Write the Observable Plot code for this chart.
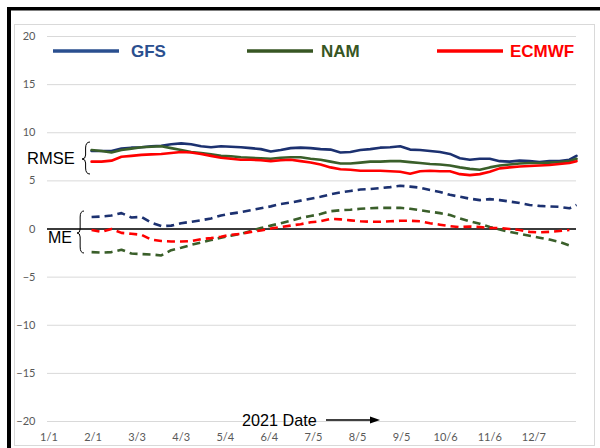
<!DOCTYPE html>
<html>
<head>
<meta charset="utf-8">
<script src="https://cdn.jsdelivr.net/npm/d3@7"></script>
<script src="https://cdn.jsdelivr.net/npm/@observablehq/plot@0.6"></script>
<style>
  html, body { margin: 0; padding: 0; background: #fff; }
  #wrap { position: relative; width: 600px; height: 448px; overflow: hidden; }
  #wrap svg { position: absolute; left: 0; top: 0; }
  #overlay { pointer-events: none; }
</style>
</head>
<body>
<div id="wrap"></div>
<script>
// ---- data ----
const models = ["GFS", "NAM", "ECMWF"];
const lineColors = ["#1c3170", "#3a5f2a", "#ff0000"];
const legendColors = ["#2a4f8f", "#375623", "#ff0000"];

// day index since 1/1 (category position on the date axis)
const days = [30, 37, 44, 51, 58, 65, 72, 79, 86, 93,
  100, 107, 114, 121, 128, 135, 142, 149, 156, 163,
  170, 177, 184, 191, 198, 205, 212, 219, 226, 233,
  240, 247, 254, 261, 268, 275, 282, 289, 296, 303,
  310, 317, 324, 331, 338, 345, 352, 359, 366, 371];

const gfsRmse = [8.1, 8.1, 8.1, 8.35, 8.45, 8.5, 8.6, 8.65, 8.8, 8.9,
  8.8, 8.6, 8.5, 8.6, 8.55, 8.5, 8.4, 8.3, 8.05, 8.2,
  8.4, 8.45, 8.4, 8.3, 8.25, 7.95, 8.0, 8.2, 8.3, 8.45,
  8.5, 8.6, 8.25, 8.2, 8.1, 8.0, 7.8, 7.35, 7.2, 7.3,
  7.3, 7.05, 7.0, 7.1, 7.05, 6.95, 7.05, 7.05, 7.2, 7.6];
const namRmse = [8.2, 8.1, 7.95, 8.2, 8.35, 8.5, 8.55, 8.6, 8.4, 8.2,
  8.0, 7.9, 7.75, 7.6, 7.55, 7.45, 7.4, 7.35, 7.3, 7.4,
  7.45, 7.45, 7.3, 7.2, 7.0, 6.8, 6.8, 6.9, 7.0, 7.0,
  7.05, 7.05, 6.95, 6.85, 6.75, 6.7, 6.6, 6.4, 6.25, 6.15,
  6.4, 6.6, 6.7, 6.8, 6.85, 6.85, 6.9, 6.95, 7.05, 7.3];
const ecmwfRmse = [7.0, 7.0, 7.1, 7.5, 7.6, 7.7, 7.75, 7.8, 7.9, 8.0,
  7.95, 7.8, 7.6, 7.4, 7.3, 7.2, 7.2, 7.15, 7.05, 7.15,
  7.2, 7.05, 6.9, 6.7, 6.4, 6.2, 6.15, 6.05, 6.05, 6.05,
  6.0, 5.95, 5.75, 6.0, 6.05, 6.0, 6.0, 5.7, 5.6, 5.7,
  5.95, 6.3, 6.4, 6.5, 6.55, 6.6, 6.65, 6.75, 6.85, 7.05];

const gfsMe = [1.25, 1.3, 1.4, 1.65, 1.2, 1.25, 0.65, 0.3, 0.35, 0.6,
  0.75, 0.9, 1.1, 1.4, 1.6, 1.75, 1.95, 2.15, 2.35, 2.6,
  2.75, 2.95, 3.15, 3.35, 3.6, 3.8, 3.95, 4.1, 4.15, 4.25,
  4.35, 4.5, 4.4, 4.3, 4.05, 3.85, 3.55, 3.35, 3.15, 3.0,
  3.1, 3.0, 2.85, 2.7, 2.5, 2.4, 2.35, 2.3, 2.15, 2.5];
const namMe = [-2.4, -2.45, -2.4, -2.15, -2.55, -2.6, -2.65, -2.75, -2.2, -1.95,
  -1.65, -1.4, -1.15, -0.9, -0.7, -0.5, -0.2, 0.1, 0.35, 0.6,
  0.85, 1.15, 1.35, 1.55, 1.85, 1.95, 2.0, 2.1, 2.15, 2.2,
  2.2, 2.2, 2.1, 1.95, 1.8, 1.65, 1.45, 1.1, 0.8, 0.55,
  0.2, -0.05, -0.3, -0.5, -0.7, -0.9, -1.1, -1.35, -1.7, null];
const ecmwfMe = [-0.1, -0.3, 0.0, -0.4, -0.5, -0.6, -1.1, -1.25, -1.3, -1.3,
  -1.25, -1.05, -0.95, -0.8, -0.6, -0.5, -0.3, -0.15, 0.05, 0.2,
  0.35, 0.5, 0.7, 0.8, 1.05, 1.0, 0.9, 0.8, 0.75, 0.75,
  0.8, 0.85, 0.85, 0.8, 0.6, 0.45, 0.3, 0.2, 0.25, 0.2,
  0.1, 0.1, 0.0, -0.1, -0.3, -0.35, -0.3, -0.2, -0.1, null];

const tickDays = [0, 31, 62, 93, 124, 155, 186, 217, 248, 279, 310, 341];
const tickLabels = ["1/1", "2/1", "3/3", "4/3", "5/4", "6/4", "7/5", "8/5", "9/5", "10/6", "11/6", "12/7"];
const yTicks = [-20, -15, -10, -5, 0, 5, 10, 15, 20];

// ---- table built from the arrays ----
const rmse = [gfsRmse, namRmse, ecmwfRmse];
const me = [gfsMe, namMe, ecmwfMe];
const rows = models.flatMap((m, mi) => days.map((d, i) => ({model: m, day: d, rmse: rmse[mi][i], me: me[mi][i]})));

const chart = Plot.plot({
  width: 600,
  height: 448,
  marginLeft: 47,
  marginRight: 24,
  marginTop: 36,
  marginBottom: 27,
  x: {domain: [-1, 371], axis: null, label: null},
  y: {domain: [-20, 20], axis: null, label: null},
  color: {domain: models, range: lineColors},
  style: {fontFamily: "Lato, 'Open Sans', sans-serif", fontSize: "11px", color: "#595959", background: "transparent"},
  marks: [
    Plot.gridY(yTicks, {stroke: "#d9d9d9", strokeOpacity: 1, strokeWidth: 1}),
    Plot.axisY(yTicks, {tickSize: 0, tickPadding: 12, fill: "#595959", fontSize: 11, label: null}),
    Plot.axisX(tickDays, {tickSize: 0, tickPadding: 12, fill: "#595959", fontSize: 11, label: null,
      tickFormat: d => tickLabels[tickDays.indexOf(d)]}),
    Plot.ruleY([0], {stroke: "#000", strokeWidth: 1.6}),
    Plot.line(rows, {x: "day", y: "rmse", z: "model", stroke: "model", strokeWidth: 2.6}),
    Plot.line(rows, {x: "day", y: "me", z: "model", stroke: "model", strokeWidth: 2.6,
      strokeDasharray: "8,5", strokeLinecap: "butt"})
  ]
});
const wrap = document.getElementById("wrap");
wrap.appendChild(chart);

// ---- frame, legend and annotations ----
const NS = "http://www.w3.org/2000/svg";
const ov = document.createElementNS(NS, "svg");
ov.setAttribute("id", "overlay");
ov.setAttribute("width", 600);
ov.setAttribute("height", 448);
ov.setAttribute("viewBox", "0 0 600 448");
function el(tag, attrs, text) {
  const e = document.createElementNS(NS, tag);
  for (const k in attrs) e.setAttribute(k, attrs[k]);
  if (text != null) e.textContent = text;
  ov.appendChild(e);
  return e;
}
// outer black frame (left and top) and inner light box
el("rect", {x: 7, y: 7, width: 4, height: 441, fill: "#000"});
el("rect", {x: 7, y: 7, width: 593, height: 3.5, fill: "#000"});
el("rect", {x: 14.5, y: 24.5, width: 580, height: 421, fill: "none", stroke: "#d9d9d9", "stroke-width": 1});

// legend
const legendLineX = [53, 247, 437];
const legendTextX = [131, 321, 510];
models.forEach((m, i) => {
  el("line", {x1: legendLineX[i], x2: legendLineX[i] + 66, y1: 51, y2: 51, stroke: legendColors[i], "stroke-width": 3.3});
  el("text", {x: legendTextX[i], y: 57, fill: legendColors[i], "font-family": "'Liberation Sans', Arial, sans-serif",
    "font-size": 17, "font-weight": "bold"}, m);
});

// braces
function brace(tip, back, y1, y2, mid) {
  const s = tip + (back - tip) * 0.45;
  const d = `M${back},${y1} Q${s},${y1} ${s},${y1 + 6} L${s},${mid - 4} Q${s},${mid} ${tip},${mid} ` +
            `Q${s},${mid} ${s},${mid + 4} L${s},${y2 - 6} Q${s},${y2} ${back},${y2}`;
  el("path", {d, fill: "none", stroke: "#000", "stroke-width": 1});
}
brace(82, 90, 142, 174, 159);
brace(77, 84, 211, 253, 233);
el("text", {x: 27, y: 164, fill: "#000", "font-family": "'Liberation Sans', Arial, sans-serif", "font-size": 16.5}, "RMSE");
el("text", {x: 48, y: 242.5, fill: "#000", "font-family": "'Liberation Sans', Arial, sans-serif", "font-size": 16}, "ME");

// x-axis title with arrow
el("text", {x: 242, y: 426, fill: "#000", "font-family": "'Liberation Sans', Arial, sans-serif", "font-size": 16.2}, "2021 Date");
el("line", {x1: 326, x2: 372, y1: 420, y2: 420, stroke: "#000", "stroke-width": 1.3});
el("path", {d: "M370,416.6 L380,420 L370,423.4 Z", fill: "#000"});

wrap.appendChild(ov);
</script>
</body>
</html>
